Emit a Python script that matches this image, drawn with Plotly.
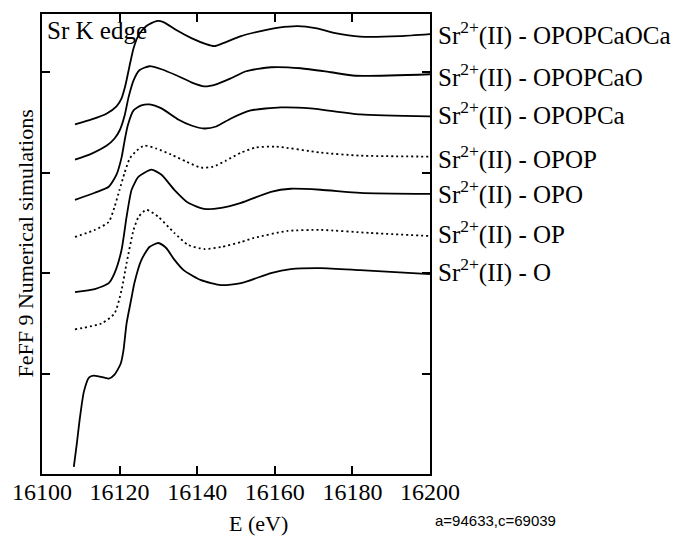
import plotly.graph_objects as go

# ---- data ----
labels = ["OPOPCaOCa", "OPOPCaO", "OPOPCa", "OPOP", "OPO", "OP", "O"]
dashes = ["solid", "solid", "solid", "dot", "solid", "dot", "solid"]

e_opopcaoca = [16108.5, 16112.8, 16116.7, 16119.2, 16120.5, 16121.5, 16122.6, 16123.6, 16124.9, 16126.9,
               16129.5, 16131.3, 16134.6, 16138.5, 16142.3, 16144.4, 16146.7, 16151.3, 16156.4, 16161.0,
               16165.9, 16170.5, 16175.6, 16182.0, 16192.3, 16200.0]
y_opopcaoca = [3.48, 3.53, 3.59, 3.66, 3.74, 3.87, 4.07, 4.24, 4.37, 4.46,
               4.51, 4.50, 4.42, 4.34, 4.28, 4.26, 4.29, 4.36, 4.41, 4.445,
               4.46, 4.44, 4.39, 4.355, 4.36, 4.38]

e_opopcao = [16108.5, 16112.8, 16116.7, 16118.7, 16120.0, 16121.3, 16122.3, 16123.6, 16125.1, 16127.7,
             16130.8, 16134.6, 16138.5, 16141.8, 16144.9, 16148.7, 16152.6, 16159.0, 16166.7, 16174.4,
             16180.8, 16200.0]
y_opopcao = [3.13, 3.19, 3.27, 3.34, 3.42, 3.57, 3.75, 3.92, 4.02, 4.06,
             4.03, 3.97, 3.90, 3.86, 3.88, 3.94, 4.01, 4.05, 4.04, 4.00,
             3.965, 3.98]

e_opopca = [16108.5, 16113.6, 16117.2, 16119.2, 16120.5, 16121.3, 16122.1, 16123.6, 16125.6, 16127.7,
            16130.8, 16135.1, 16138.5, 16141.8, 16144.9, 16148.7, 16153.8, 16161.5, 16169.2, 16182.0,
            16200.0]
y_opopca = [2.73, 2.80, 2.86, 2.98, 3.15, 3.32, 3.47, 3.62, 3.67, 3.68,
            3.64, 3.53, 3.47, 3.44, 3.46, 3.54, 3.62, 3.65, 3.64, 3.58,
            3.56]

e_opop = [16108.5, 16113.6, 16117.2, 16118.7, 16120.0, 16121.3, 16122.6, 16124.4, 16126.4, 16129.5,
          16133.3, 16137.2, 16141.0, 16144.1, 16147.4, 16151.3, 16155.1, 16160.3, 16171.8, 16182.0,
          16200.0]
y_opop = [2.36, 2.43, 2.51, 2.66, 2.83, 3.00, 3.14, 3.22, 3.27, 3.24,
          3.18, 3.11, 3.05, 3.06, 3.12, 3.20, 3.25, 3.26, 3.20, 3.17,
          3.16]

e_opo = [16108.5, 16113.6, 16117.2, 16118.7, 16120.5, 16121.8, 16123.1, 16124.9, 16128.2, 16130.8,
         16134.1, 16137.7, 16141.8, 16146.2, 16151.3, 16159.0, 16164.1, 16171.8, 16182.0, 16200.0]
y_opo = [1.81, 1.84, 1.90, 2.00, 2.23, 2.56, 2.83, 2.96, 3.03, 2.98,
         2.83, 2.70, 2.64, 2.65, 2.70, 2.81, 2.84, 2.83, 2.80, 2.79]

e_op = [16108.5, 16115.4, 16118.7, 16120.5, 16121.8, 16123.6, 16124.9, 16126.9, 16130.0, 16134.1,
        16137.7, 16141.8, 16146.2, 16151.3, 16154.6, 16163.3, 16171.8, 16184.6, 16200.0]
y_op = [1.44, 1.50, 1.60, 1.83, 2.10, 2.43, 2.56, 2.63, 2.56, 2.40,
        2.28, 2.24, 2.26, 2.31, 2.35, 2.42, 2.43, 2.40, 2.37]

e_o = [16108.2, 16109.0, 16109.7, 16110.8, 16112.1, 16113.3, 16114.9, 16117.2, 16118.7, 16120.3,
       16121.0, 16121.8, 16123.1, 16123.8, 16125.6, 16127.7, 16130.0, 16132.0, 16134.0, 16136.5,
       16141.0, 16146.2, 16151.3, 16159.0, 16164.1, 16171.8, 16182.0, 16200.0]
y_o = [0.07, 0.31, 0.54, 0.82, 0.96, 0.98, 0.97, 0.95, 0.99, 1.10,
       1.23, 1.50, 1.76, 1.90, 2.13, 2.26, 2.30, 2.25, 2.14, 2.03,
       1.93, 1.88, 1.90, 2.00, 2.04, 2.05, 2.03, 1.99]

series_e = [e_opopcaoca, e_opopcao, e_opopca, e_opop, e_opo, e_op, e_o]
series_y = [y_opopcaoca, y_opopcao, y_opopca, y_opop, y_opo, y_op, y_o]
label_y = [4.39, 3.97, 3.59, 3.15, 2.80, 2.40, 2.03]

x_ticks = [16100, 16120, 16140, 16160, 16180, 16200]
y_ticks = [0, 1, 2, 3, 4]

SERIF = "Liberation Serif, Times New Roman, serif"

fig = go.Figure()
for lab, e, y, d in zip(labels, series_e, series_y, dashes):
    fig.add_trace(go.Scatter(
        x=e, y=y, mode="lines", name=lab,
        line=dict(color="black", width=1.8, shape="spline", smoothing=0.6,
                  dash=("2px,3px" if d == "dot" else "solid")),
        showlegend=False, hoverinfo="skip"))

annotations = []
for lab, ly in zip(labels, label_y):
    annotations.append(dict(
        text="Sr<sup>2+</sup>(II) - " + lab, xref="paper", yref="y",
        x=1.015, y=ly, xanchor="left", yanchor="middle", showarrow=False,
        font=dict(family=SERIF, size=25, color="black")))

annotations += [
    dict(text="Sr K edge", xref="paper", yref="paper", x=0.008, y=0.965,
         xanchor="left", yanchor="middle", showarrow=False,
         font=dict(family=SERIF, size=25, color="black")),
    dict(text="E (eV)", xref="paper", yref="paper", x=0.559, y=-0.107,
         xanchor="center", yanchor="middle", showarrow=False,
         font=dict(family=SERIF, size=22, color="black")),
    dict(text="FeFF 9 Numerical simulations", xref="paper", yref="paper",
         x=-0.045, y=0.5, xanchor="center", yanchor="middle", textangle=-90,
         showarrow=False, font=dict(family=SERIF, size=22, color="black")),
    dict(text="a=94633,c=69039", xref="paper", yref="paper", x=1.169, y=-0.1,
         xanchor="center", yanchor="middle", showarrow=False,
         font=dict(family="Liberation Sans, Arial, sans-serif", size=15, color="black")),
]

fig.update_layout(
    width=675, height=536,
    margin=dict(l=40, r=245, t=14, b=62),
    paper_bgcolor="white", plot_bgcolor="white",
    annotations=annotations,
    xaxis=dict(range=[16100, 16200], tickvals=x_ticks, ticktext=[str(v) for v in x_ticks],
               ticks="inside", ticklen=8, tickwidth=1.5, tickcolor="black",
               showline=True, linewidth=2, linecolor="black", mirror="ticks",
               showgrid=False, zeroline=False, ticklabelstandoff=-5,
               tickfont=dict(family=SERIF, size=24, color="black")),
    yaxis=dict(range=[0, 4.58], tickvals=y_ticks, showticklabels=False,
               ticks="inside", ticklen=8, tickwidth=1.5, tickcolor="black",
               showline=True, linewidth=2, linecolor="black", mirror="ticks",
               showgrid=False, zeroline=False),
)

fig.write_html("out.html")
